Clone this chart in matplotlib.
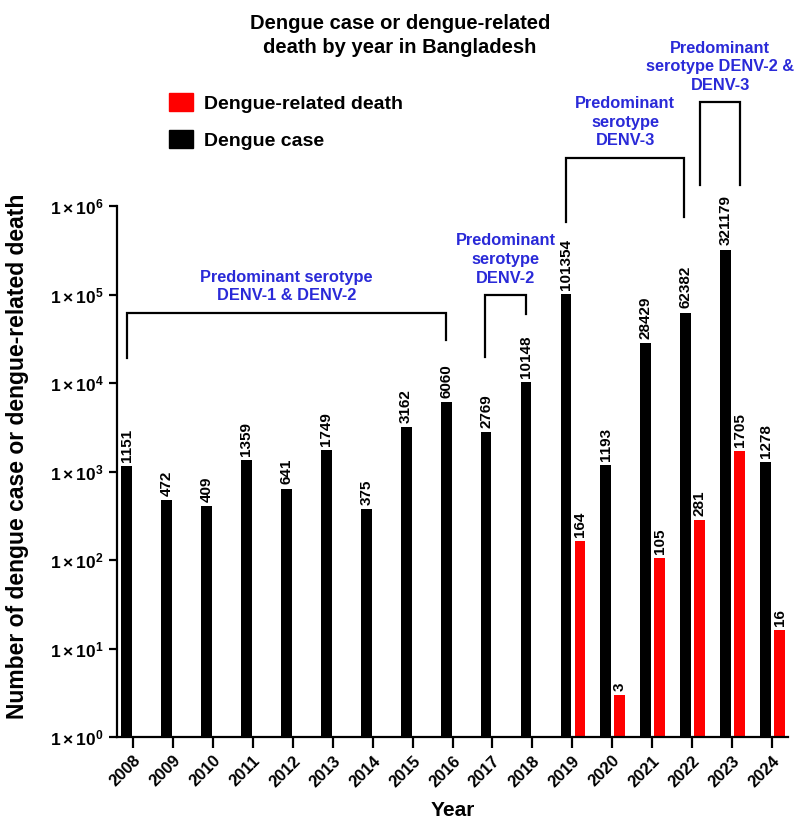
import matplotlib
matplotlib.use("Agg")
import matplotlib.pyplot as plt
from matplotlib.patches import Patch
from matplotlib.ticker import FixedLocator, NullLocator

plt.rcParams['font.family'] = ['Liberation Sans', 'DejaVu Sans']
plt.rcParams['font.weight'] = 'bold'
plt.rcParams['mathtext.fontset'] = 'custom'
plt.rcParams['mathtext.rm'] = 'Liberation Sans:bold'
plt.rcParams['mathtext.bf'] = 'Liberation Sans:bold'
plt.rcParams['mathtext.it'] = 'Liberation Sans:bold'

# data
years = list(range(2008, 2025))
cases = [1151, 472, 409, 1359, 641, 1749, 375, 3162, 6060, 2769, 10148,
         101354, 1193, 28429, 62382, 321179, 1278]
death_years = [2019, 2020, 2021, 2022, 2023, 2024]
deaths = [164, 3, 105, 281, 1705, 16]

# serotype periods: (text, x left, x right, y top, y left leg, y right leg)
brackets = [
    ("Predominant serotype\nDENV-1 & DENV-2", 2007.84, 2015.84, 10**4.79, 10**4.28, 10**4.49),
    ("Predominant\nserotype\nDENV-2", 2016.82, 2017.84, 10**4.99, 10**4.29, 10**4.78),
    ("Predominant\nserotype\nDENV-3", 2018.85, 2021.80, 10**6.54, 10**5.82, 10**5.88),
    ("Predominant\nserotype DENV-2 &\nDENV-3", 2022.20, 2023.20, 10**7.17, 10**6.24, 10**6.24),
]

bw = 0.27
black_off = -0.16
red_off = 0.19

fig = plt.figure(figsize=(7.95, 8.26), dpi=100)
ax = fig.add_axes([0.1472, 0.1077, 0.844, 0.6429])

xc = [y + black_off for y in years]
xd = [y + red_off for y in death_years]
ax.bar(xc, cases, width=bw, color='black', bottom=1, label='Dengue case')
ax.bar(xd, [d - 1 for d in deaths], width=bw, color='#ff0000', bottom=1,
       label='Dengue-related death')

for x, v in zip(xc, cases):
    ax.annotate(str(v), (x, v), xytext=(0, 3), textcoords='offset points',
                rotation=90, ha='center', va='bottom', fontsize=11)
for x, v in zip(xd, deaths):
    ax.annotate(str(v), (x, v), xytext=(0, 3), textcoords='offset points',
                rotation=90, ha='center', va='bottom', fontsize=11)

for text, x0, x1, ytop, yl, yr in brackets:
    ax.plot([x0, x0, x1, x1], [yl, ytop, ytop, yr], color='black', lw=1.6,
            clip_on=False, solid_joinstyle='miter')
    ax.annotate(text, ((x0 + x1) / 2, ytop), xytext=(0, 7), textcoords='offset points',
                ha='center', va='bottom', color='#2a2ad8', fontsize=11.8,
                linespacing=1.3, annotation_clip=False)

ax.set_yscale('log')
ax.set_ylim(1, 1e6)
ax.set_xlim(2007.6, 2024.4)
ax.yaxis.set_major_locator(FixedLocator([10**k for k in range(7)]))
ax.yaxis.set_minor_locator(NullLocator())
ax.set_yticklabels([r'$1\times10^{%d}$' % k for k in range(7)], fontsize=12.5)
ax.set_xticks(years)
ax.set_xticklabels([str(y) for y in years], rotation=45, ha='right',
                   rotation_mode='anchor', fontsize=12)
ax.tick_params(axis='y', length=6, width=1.6)
ax.tick_params(axis='x', length=8, width=1.6)
for s in ['top', 'right']:
    ax.spines[s].set_visible(False)
for s in ['left', 'bottom']:
    ax.spines[s].set_linewidth(1.6)

ax.set_xlabel('Year', fontsize=15, fontweight='bold', labelpad=8)
fig.text(0.022, 0.448, 'Number of dengue case or dengue-related death',
         rotation=90, ha='center', va='center', fontsize=16.5)
fig.text(0.503, 0.957, 'Dengue case or dengue-related\ndeath by year in Bangladesh',
         ha='center', va='center', fontsize=14.5, linespacing=1.3)

handles = [Patch(color='#ff0000', label='Dengue-related death'),
           Patch(color='black', label='Dengue case')]
ax.legend(handles=handles, loc='upper left', bbox_to_anchor=(0.191, 0.908),
          bbox_transform=fig.transFigure, frameon=False, fontsize=14,
          handlelength=1.2, handleheight=1.0, labelspacing=0.9, handletextpad=0.6)

fig.savefig('out.png', dpi=100)
